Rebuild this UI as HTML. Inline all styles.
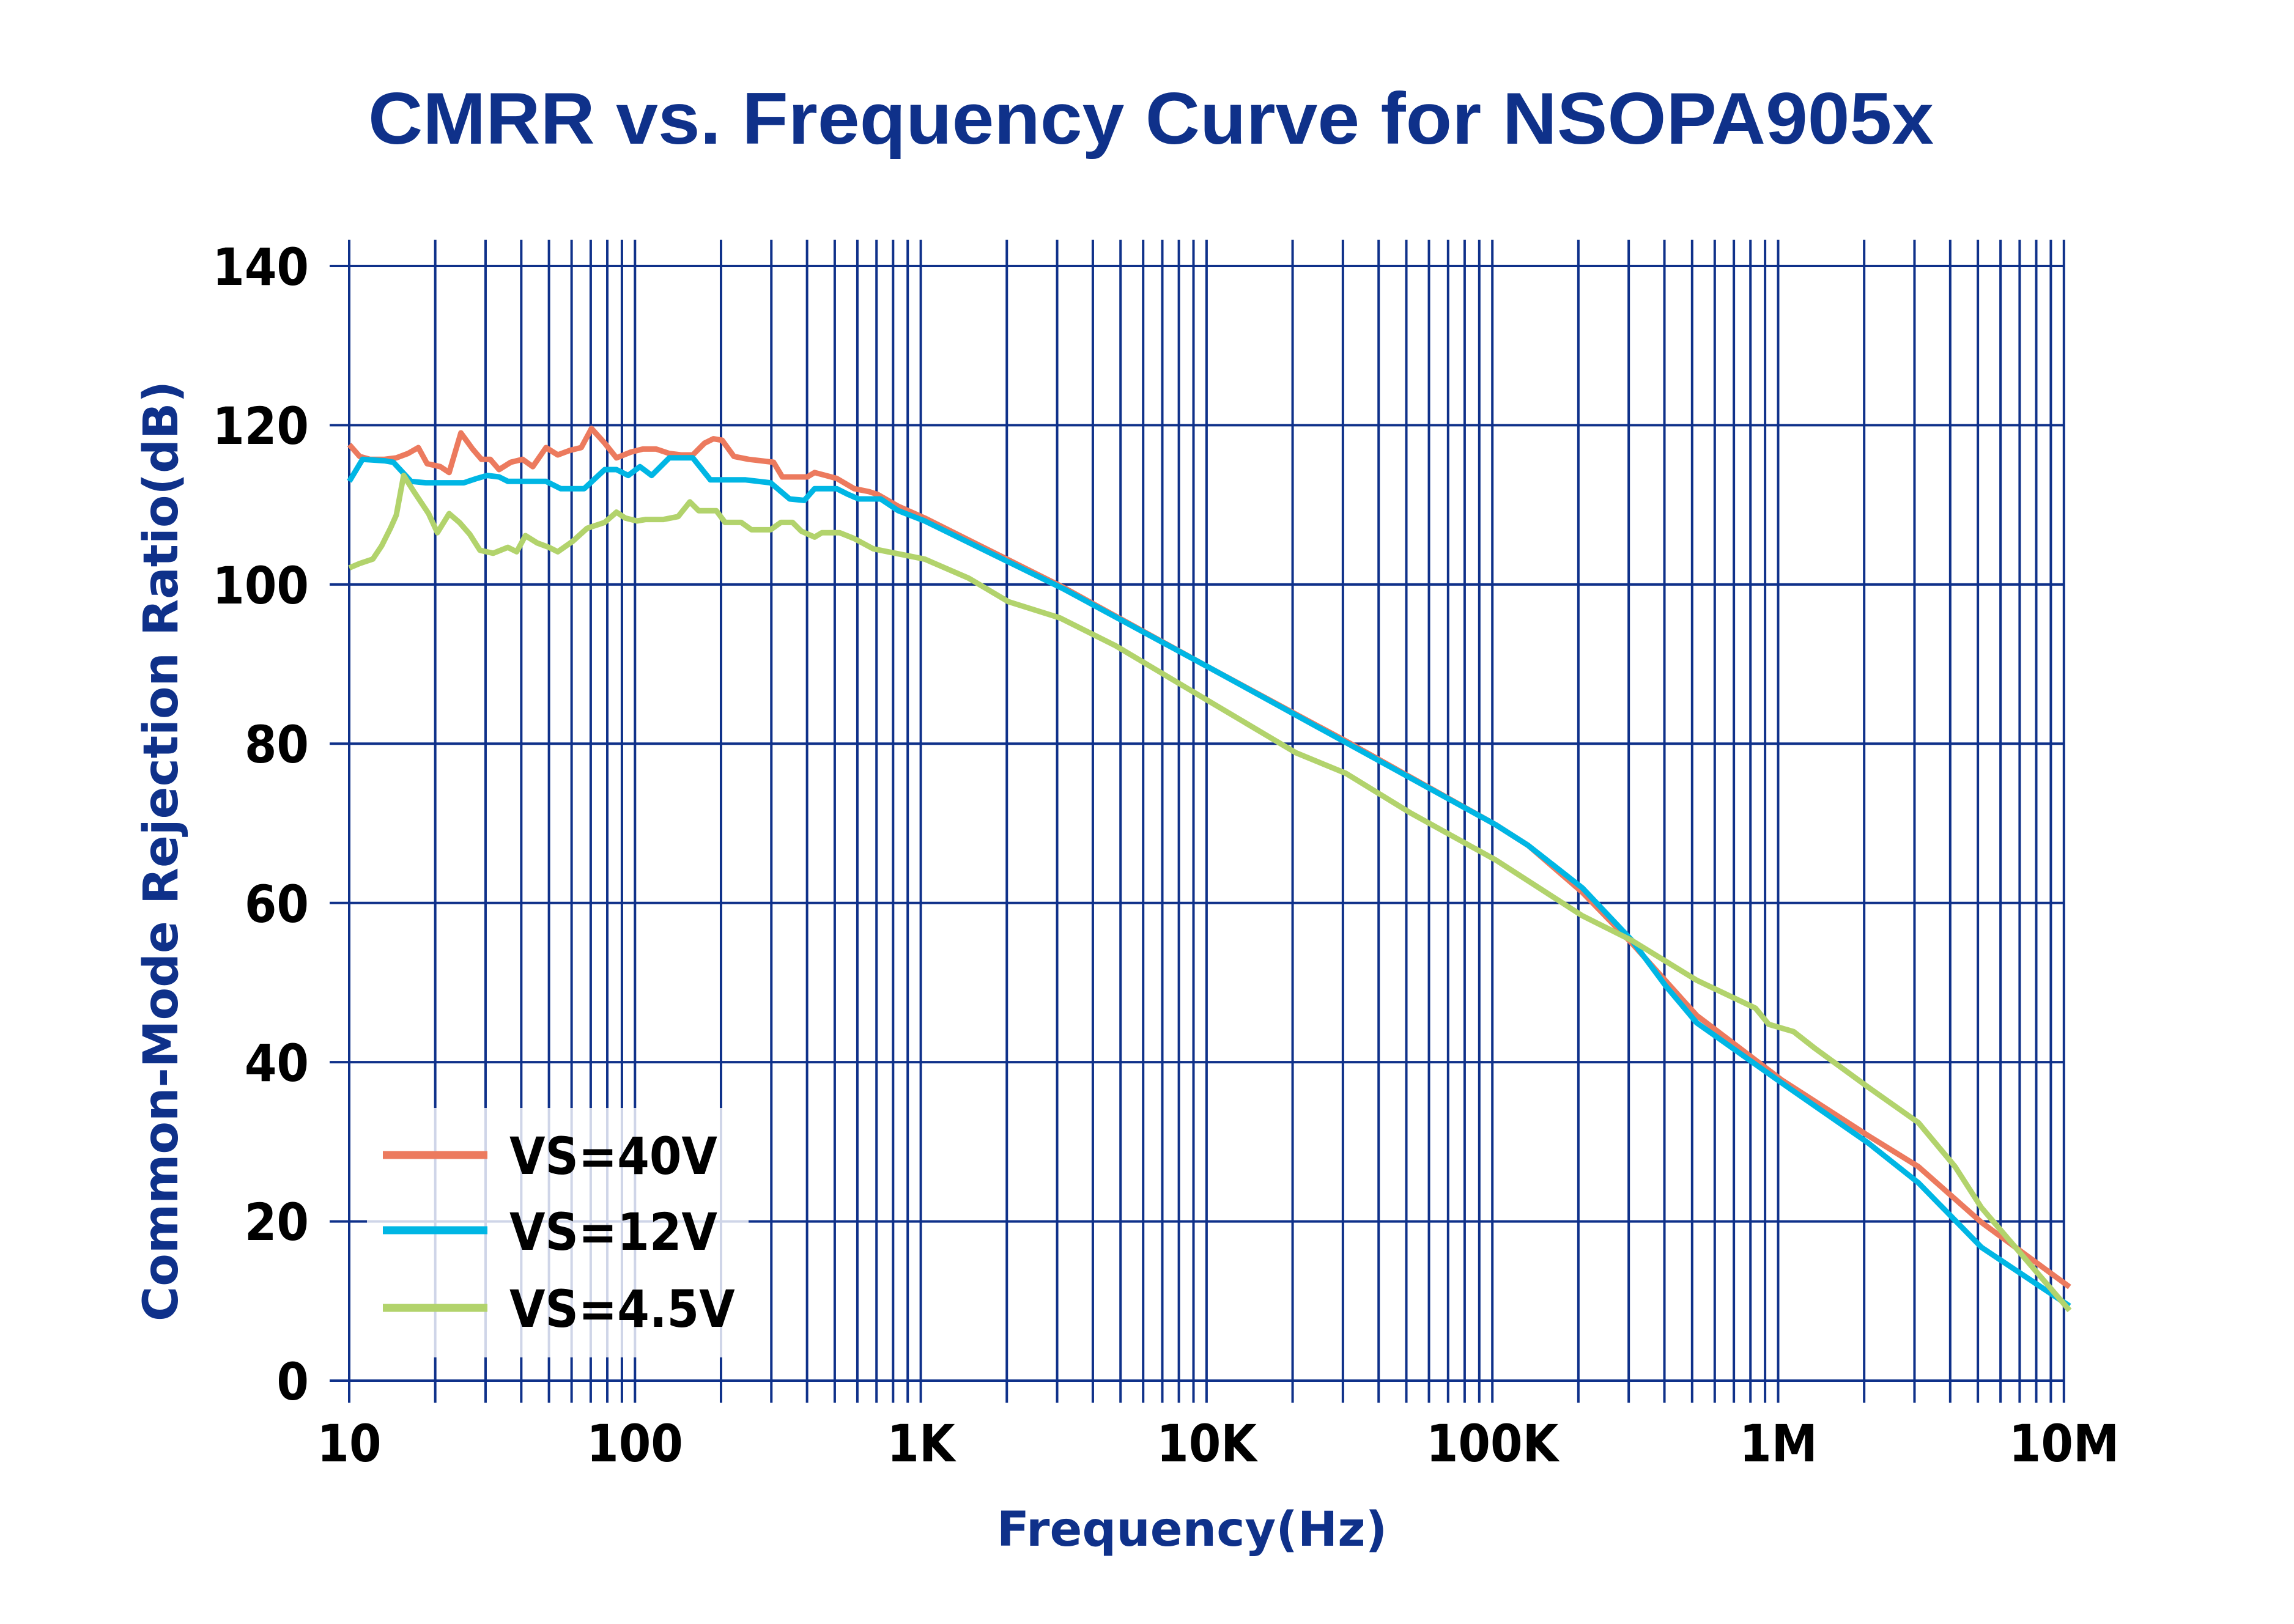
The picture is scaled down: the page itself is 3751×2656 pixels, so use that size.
<!DOCTYPE html>
<html><head><meta charset="utf-8"><style>html,body{margin:0;padding:0;background:#fff}svg{display:block}</style></head>
<body>
<svg width="3751" height="2656" viewBox="0 0 3751 2656" xmlns="http://www.w3.org/2000/svg">
<rect width="3751" height="2656" fill="#fff"/>
<text x="1882" y="235" text-anchor="middle" font-family="'Liberation Sans', sans-serif" font-weight="bold" font-size="120" fill="#0f318a" textLength="2560" lengthAdjust="spacingAndGlyphs">CMRR vs. Frequency Curve for NSOPA905x</text>
<g stroke="#0f318a" stroke-width="4">
<line x1="539" y1="435" x2="3375" y2="435"/>
<line x1="539" y1="695.4" x2="3375" y2="695.4"/>
<line x1="539" y1="955.9" x2="3375" y2="955.9"/>
<line x1="539" y1="1216.3" x2="3375" y2="1216.3"/>
<line x1="539" y1="1476.7" x2="3375" y2="1476.7"/>
<line x1="539" y1="1737.1" x2="3375" y2="1737.1"/>
<line x1="539" y1="1997.6" x2="3375" y2="1997.6"/>
<line x1="539" y1="2258" x2="3375" y2="2258"/>
</g>
<g stroke="#0f318a" stroke-width="4" id="v">
</g>
<g font-family="'DejaVu Sans Condensed', 'DejaVu Sans', sans-serif" font-weight="bold" font-size="84" fill="#000" text-anchor="end">
<text x="505" y="466">140</text>
<text x="505" y="726">120</text>
<text x="505" y="987">100</text>
<text x="505" y="1247">80</text>
<text x="505" y="1508">60</text>
<text x="505" y="1768">40</text>
<text x="505" y="2028">20</text>
<text x="505" y="2289">0</text>
</g>
<g font-family="'DejaVu Sans Condensed', 'DejaVu Sans', sans-serif" font-weight="bold" font-size="84" fill="#000" text-anchor="middle">
<text x="571" y="2390">10</text>
<text x="1038" y="2390">100</text>
<text x="1506" y="2390">1K</text>
<text x="1973" y="2390">10K</text>
<text x="2440" y="2390">100K</text>
<text x="2908" y="2390">1M</text>
<text x="3375" y="2390">10M</text>
</g>
<text x="1949" y="2528" text-anchor="middle" font-family="'DejaVu Sans', 'Liberation Sans', sans-serif" font-weight="bold" font-size="78" fill="#0f318a">Frequency(Hz)</text>
<text transform="translate(290,1392) rotate(-90)" text-anchor="middle" font-family="'DejaVu Sans', 'Liberation Sans', sans-serif" font-weight="bold" font-size="78" fill="#0f318a">Common-Mode Rejection Ratio(dB)</text>
<g transform="scale(2.4)" fill="none" stroke-width="3.75" stroke-linejoin="round">
<polyline stroke="#ec7a5e" points="238,303 245,311 252,313 262,313 270,312 278,309 285,305 291,316 300,318 306,322 314,295 322,306 328,313 334,313 340,320 348,315 356,313 363,318 372,305 380,310 388,307 396,305 403,292 412,302 420,312 430,308 438,306 447,306 456,309 464,310 472,310 480,302 486,299 492,300 500,311 510,313 527,315 533,325 550,325 555,322 570,326 582,333 592,335 598,337 612,345 630,353 724,400 824,455 917,505 1019,562 1041,576 1078,608 1112,643 1156,692 1214,736 1273,774 1307,795 1350,833 1410,877"/>
<polyline stroke="#00b6e4" points="238,328 247,313 262,314 268,315 280,328 290,329 316,329 325,326 332,324 340,325 346,328 372,328 382,333 398,333 412,320 420,320 428,324 436,318 444,324 456,312 472,312 484,327 508,327 525,329 538,340 548,341 555,333 570,333 578,337 585,340 600,340 612,348 630,355 724,401 824,455 1019,562 1041,576 1078,605 1112,641 1135,672 1156,697 1214,738 1273,779 1307,806 1350,850 1410,890"/>
<polyline stroke="#b2d36c" points="238,387 245,384 254,381 260,372 266,360 270,351 275,324 282,335 292,350 298,363 306,350 313,356 320,364 327,375 336,377 346,373 352,376 358,365 366,370 374,373 380,376 390,369 400,360 412,356 420,349 426,353 434,355 440,354 452,354 462,352 470,342 476,348 488,348 494,356 505,356 512,361 525,361 532,356 540,356 546,362 555,366 560,363 572,363 582,367 595,374 605,376 615,378 630,381 660,394 687,410 722,421 760,440 824,478 883,513 917,527 961,554 1019,586 1078,624 1112,641 1156,668 1196,687 1205,698 1222,703 1236,714 1273,741 1307,765 1332,795 1350,823 1410,893"/>
</g>
<rect x="600" y="1812" width="624" height="408" fill="#fff" fill-opacity="0.8"/>
<g stroke-width="13">
<line x1="626" y1="1889" x2="797" y2="1889" stroke="#ec7a5e"/>
<line x1="626" y1="2012" x2="797" y2="2012" stroke="#00b6e4"/>
<line x1="626" y1="2139" x2="797" y2="2139" stroke="#b2d36c"/>
</g>
<g font-family="'DejaVu Sans Condensed', 'DejaVu Sans', sans-serif" font-weight="bold" font-size="84" fill="#000">
<text x="833" y="1920">VS=40V</text>
<text x="833" y="2044">VS=12V</text>
<text x="833" y="2170">VS=4.5V</text>
</g>
<script>
(function(){var g=document.getElementById('v');var ns='http://www.w3.org/2000/svg';
for(var d=0;d<=6;d++){for(var m=1;m<=9;m++){if(d==6&&m>1)break;var x=571+467.3*(d+Math.log10(m));
var l=document.createElementNS(ns,'line');l.setAttribute('x1',x);l.setAttribute('x2',x);l.setAttribute('y1',392);l.setAttribute('y2',2294);g.appendChild(l);}}})();
</script>
</svg>
</body></html>
